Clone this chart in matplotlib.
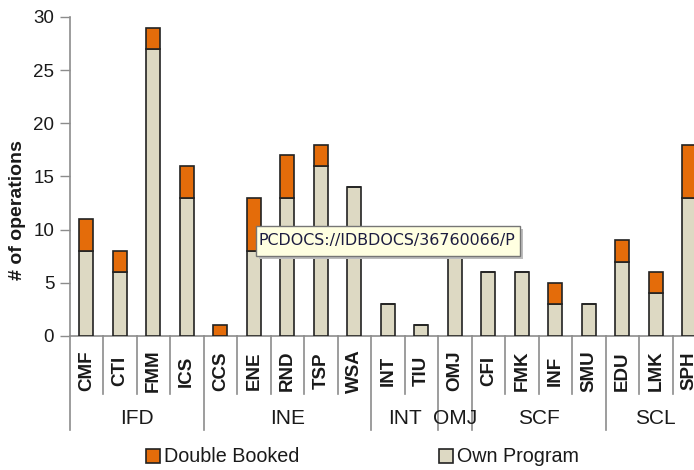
import matplotlib
matplotlib.use("Agg")
import matplotlib.pyplot as plt
from matplotlib.patches import Rectangle
import numpy as np

plt.rcParams['font.family'] = ['Liberation Sans', 'DejaVu Sans']

categories = ["CMF", "CTI", "FMM", "ICS", "CCS", "ENE", "RND", "TSP", "WSA",
              "INT", "TIU", "OMJ", "CFI", "FMK", "INF", "SMU", "EDU", "LMK", "SPH"]
groups = ["IFD", "INE", "INT", "OMJ", "SCF", "SCL"]
group_sizes = [4, 5, 2, 1, 4, 3]
own_program = [8, 6, 27, 13, 0, 8, 13, 16, 14, 3, 1, 9, 6, 6, 3, 3, 7, 4, 13]
double_booked = [3, 2, 2, 3, 1, 5, 4, 2, 0, 0, 0, 0, 0, 0, 2, 0, 2, 2, 5]
tooltip = "PCDOCS://IDBDOCS/36760066/P"

ORANGE = "#E46C0A"
BEIGE = "#DDD9C3"
GRID = "#8C8C8C"
TXT = "#1A1A1A"

W, H = 694, 470
fig = plt.figure(figsize=(W / 100, H / 100), dpi=100)
# axes box in pixels: left 69.5, right 706 (cut by figure edge), y 17..336
ax = fig.add_axes([69.5 / W, (H - 336) / H, 636.5 / W, 319 / H])

x = np.arange(len(categories))
ax.bar(x, own_program, width=0.42, color=BEIGE, edgecolor="#222222", linewidth=1.2,
       label="Own Program", zorder=3)
ax.bar(x, double_booked, width=0.42, bottom=own_program, color=ORANGE,
       edgecolor="#222222", linewidth=1.2, label="Double Booked", zorder=3)

ax.set_xlim(-0.5, len(categories) - 0.5)
ax.set_ylim(0, 30)
ax.set_yticks(range(0, 31, 5))
ax.tick_params(axis="y", direction="out", length=7, width=1, color=GRID,
               labelsize=13.5, labelcolor=TXT, pad=4)
ax.set_xticks([])
for s in ["top", "right"]:
    ax.spines[s].set_visible(False)
for s in ["left", "bottom"]:
    ax.spines[s].set_color(GRID)
    ax.spines[s].set_linewidth(1.2)

ax.set_ylabel("# of operations", fontsize=14, fontweight="bold", color=TXT)
ax.yaxis.set_label_coords((26 - 69.5) / 636.5, (336 - 210) / 319)

# multi-level category axis
short_y = (336 - 394) / 319
long_y = (336 - 430) / 319
trans = ax.get_xaxis_transform()
bounds = np.cumsum([0] + group_sizes)
for i in range(len(categories) + 1):
    y1 = long_y if i in bounds else short_y
    ax.plot([i - 0.5, i - 0.5], [0, y1], color=GRID, lw=1.2, transform=trans,
            clip_on=False)
for i, c in enumerate(categories):
    ax.text(i, (336 - 371) / 319, c, rotation=90, ha="center", va="center",
            fontsize=13.5, fontweight="bold", color=TXT, transform=trans)
for g, a, b in zip(groups, bounds[:-1], bounds[1:]):
    ax.text((a + b - 1) / 2, (336 - 418) / 319, g, ha="center", va="center",
            fontsize=15, color=TXT, transform=trans)

# legend
h_own, l_own = ax.get_legend_handles_labels()
for handle, label, xpos in [(h_own[1], l_own[1], 146 / W), (h_own[0], l_own[0], 439 / W)]:
    fig.legend([handle], [label], loc="center left", bbox_to_anchor=(xpos, (H - 457) / H),
               frameon=False, fontsize=14.2, handlelength=0.7, handleheight=0.7,
               handletextpad=0.2, borderpad=0, borderaxespad=0, labelcolor=TXT)

# tooltip box overlaying the chart
bx0, bx1, by0, by1 = 256, 520, 226, 256
fig.patches.append(Rectangle(((bx0 + 3) / W, (H - by1 - 3) / H), (bx1 - bx0) / W,
                             (by1 - by0) / H, transform=fig.transFigure,
                             facecolor="#BDBDBD", edgecolor="none", zorder=10))
fig.patches.append(Rectangle((bx0 / W, (H - by1) / H), (bx1 - bx0) / W,
                             (by1 - by0) / H, transform=fig.transFigure,
                             facecolor="#FFFFE1", edgecolor="#767676", lw=1, zorder=11))
fig.text((bx0 + 3) / W, (H - (by0 + by1) / 2) / H, tooltip, ha="left", va="center",
         fontsize=11.4, family="DejaVu Sans", color="#1C1C40", zorder=12)

fig.savefig("out.png", dpi=100)
